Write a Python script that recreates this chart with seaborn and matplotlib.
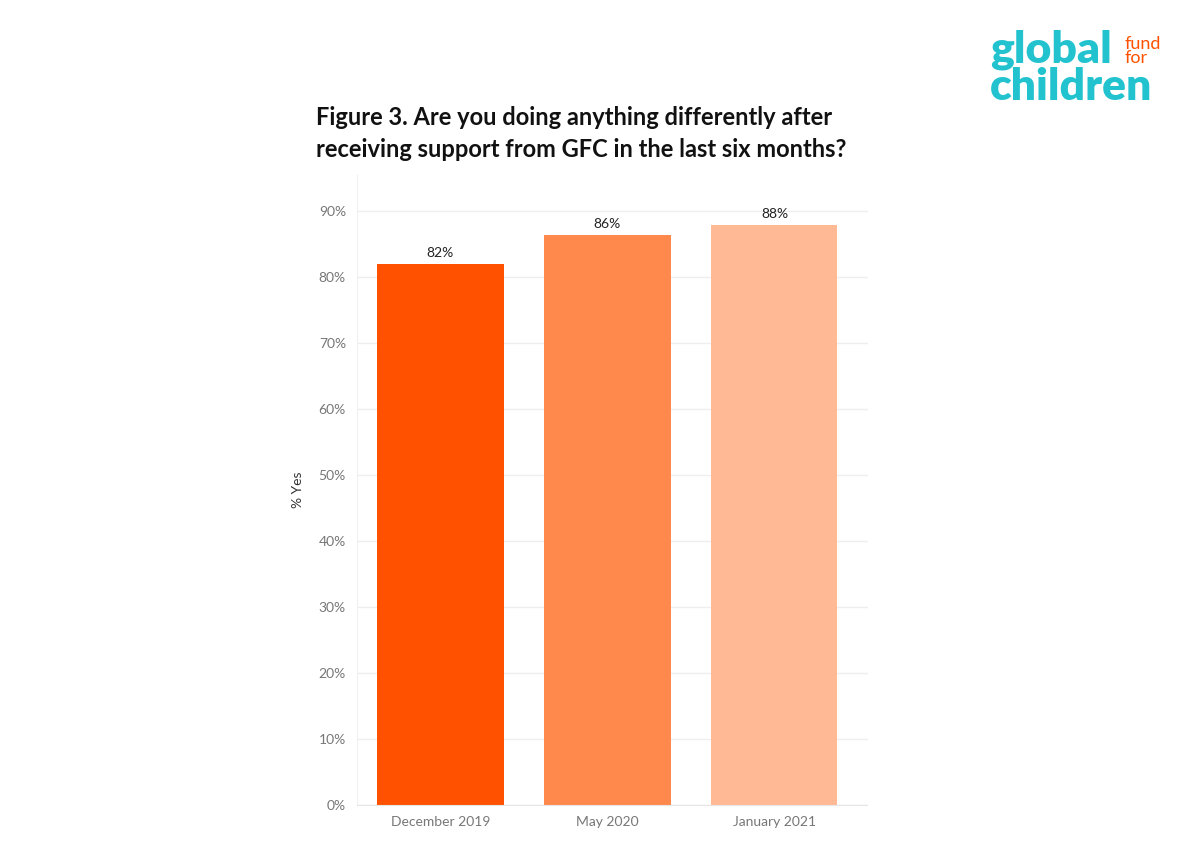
import pandas as pd
import matplotlib.pyplot as plt
import seaborn as sns

periods = ['December 2019', 'May 2020', 'January 2021']
pct_yes = [82.0, 86.4, 87.9]
bar_labels = ['82%', '86%', '88%']
bar_colors = ['#FF5100', '#FF884D', '#FFB994']
y_ticks = [0, 10, 20, 30, 40, 50, 60, 70, 80, 90]

data = pd.DataFrame({'period': periods, 'pct': pct_yes})

sns.set_style('white')
plt.rcParams['font.family'] = ['Lato', 'DejaVu Sans']

fig = plt.figure(figsize=(12, 8.5), dpi=100)
ax = fig.add_axes([0.2975, 0.053, 0.4258, 0.741])

sns.barplot(x='period', y='pct', data=data, hue='period', palette=bar_colors,
            legend=False, width=0.755, saturation=1, linewidth=0, ax=ax, zorder=2)

for i, (v, lab) in enumerate(zip(pct_yes, bar_labels)):
    ax.text(i, v + 0.8, lab, ha='center', va='bottom', fontsize=10, color='#222222')

ax.set_xlim(-0.5, 2.56)
ax.set_ylim(0, 95.5)
ax.set_yticks(y_ticks)
ax.set_yticklabels([f'{t}%' for t in y_ticks])
ax.yaxis.grid(True, color='#EEEEEE', linewidth=1, zorder=0)
ax.tick_params(axis='both', colors='#777777', labelsize=10, length=0, pad=8)
ax.set_xlabel('')
ax.set_ylabel('% Yes', fontsize=10, color='#333333')
ax.yaxis.set_label_coords(-0.104, 0.5)
for side in ['top', 'right']:
    ax.spines[side].set_visible(False)
ax.spines['left'].set_color('#F0F0F0')
ax.spines['bottom'].set_color('#E6E6E6')
ax.spines['bottom'].set_linestyle((0, (1, 1)))

fig.text(0.263, 0.843, 'Figure 3. Are you doing anything differently after\nreceiving support from GFC in the last six months?',
         fontsize=17, fontweight='bold', color='#111111', ha='left', va='center', linespacing=1.45)

# logo
fig.text(0.825, 0.926, 'global', fontsize=32, fontweight='heavy', color='#22C3CF', ha='left', va='baseline')
fig.text(0.825, 0.882, 'children', fontsize=32, fontweight='heavy', color='#22C3CF', ha='left', va='baseline')
fig.text(0.937, 0.926, 'fund\nfor', fontsize=13, color='#FF5100', ha='left', va='baseline', linespacing=0.85)

plt.savefig('out.png', dpi=100)
